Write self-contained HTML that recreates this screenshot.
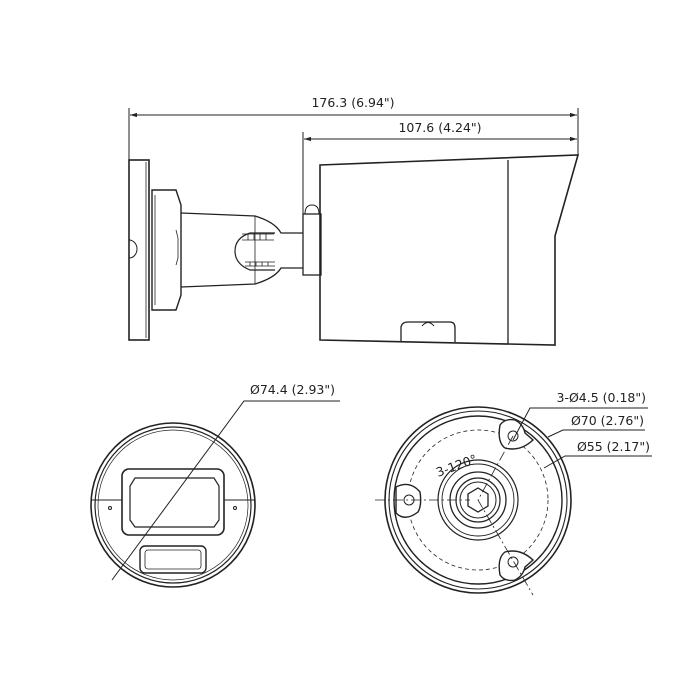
<!DOCTYPE html>
<html><head><style>body{margin:0;background:#fff}svg{display:block}text{font-family:"DejaVu Sans","Liberation Sans",sans-serif;font-size:12.5px;fill:#222}</style></head>
<body>
<svg width="700" height="700" viewBox="0 0 700 700" xmlns="http://www.w3.org/2000/svg" fill="none" stroke="#222" stroke-width="1.3">
<defs><marker id="a" viewBox="0 0 10 10" refX="10" refY="5" markerWidth="7" markerHeight="7" orient="auto-start-reverse"><path d="M0,2 L10,5 L0,8z" fill="#222" stroke="none"/></marker></defs>
<!-- dimensions -->
<line x1="129" y1="108" x2="129" y2="160" stroke-width="1"/>
<line x1="578" y1="108" x2="578" y2="155" stroke-width="1"/>
<line x1="303" y1="132" x2="303" y2="230" stroke-width="1"/>
<line x1="130" y1="115" x2="577" y2="115" stroke-width="1" marker-start="url(#a)" marker-end="url(#a)"/>
<line x1="304" y1="139" x2="577" y2="139" stroke-width="1" marker-start="url(#a)" marker-end="url(#a)"/>
<text x="353" y="107" text-anchor="middle" stroke="none">176.3 (6.94")</text>
<text x="440" y="132" text-anchor="middle" stroke="none">107.6 (4.24")</text>
<!-- bracket -->
<rect x="129" y="160" width="20" height="180" stroke-width="1.6"/>
<line x1="146" y1="162" x2="146" y2="338" stroke-width="0.8"/>
<path d="M129,240 A8,9 0 0 1 129,258 Z" stroke-width="1"/>
<path d="M152,190 L176,190 L181,205 L181,295 L176,310 L152,310 Z" stroke-width="1.4"/>
<line x1="155" y1="195" x2="155" y2="305" stroke-width="0.8"/>
<path d="M176,230 L178,238 L178,258 L176,265" stroke-width="0.8"/>
<path d="M181,213 L255,216 Q275,222 281,233 L303,233 M181,287 L255,284 Q275,278 281,268 L303,268" stroke-width="1.3"/>
<line x1="255" y1="216" x2="255" y2="284" stroke-width="0.8"/>
<path d="M275,233 L250,233 Q235,238 235,251 Q235,264 250,270 L275,270" stroke-width="1.2"/>
<g stroke-width="0.8"><path d="M242,234 h32 M242,240 h32 M245,262 h30 M245,266 h30"/><path d="M248,234 v6 M254,234 v6 M260,234 v6 M266,234 v6 M250,262 v4 M256,262 v4 M262,262 v4 M268,262 v4"/></g>
<rect x="303" y="214" width="18" height="61" stroke-width="1.3"/>
<path d="M305,214 Q305,205 312,205 Q319,205 319,214" stroke-width="1"/>
<!-- camera body -->
<path d="M320,165 L578,155 L555,236 L555,345 L320,340 Z" stroke-width="1.6"/>
<line x1="508" y1="160" x2="508" y2="344" stroke-width="1.3"/>
<path d="M401,341 L401,327 Q402,322 408,322 L450,322 Q455,322 455,328 L455,342" stroke-width="1.3"/>
<path d="M422,326 Q428,319 434,326" stroke-width="1"/>
<!-- left circle -->
<circle cx="173" cy="505" r="82" stroke-width="1.6"/>
<circle cx="173" cy="505" r="78" stroke-width="1.2"/>
<circle cx="173" cy="505" r="75" stroke-width="0.7"/>
<line x1="91" y1="500" x2="122" y2="500" stroke-width="1"/>
<line x1="224" y1="500" x2="255" y2="500" stroke-width="1"/>
<circle cx="110" cy="508" r="1.5" stroke-width="1"/><circle cx="235" cy="508" r="1.5" stroke-width="1"/>
<rect x="122" y="469" width="102" height="66" rx="7" stroke-width="1.6"/>
<path d="M135,478 L214,478 L219,486 L219,520 L214,527 L135,527 L130,520 L130,486 Z" stroke-width="1.2"/>
<rect x="140" y="546" width="66" height="27" rx="5" stroke-width="1.4"/>
<rect x="145" y="550" width="56" height="19" rx="3" stroke-width="0.8"/>
<path d="M112,580 L244,401 L340,401" stroke-width="1"/>
<text x="250" y="394" stroke="none">Ø74.4 (2.93")</text>
<!-- right circle -->
<circle cx="478" cy="500" r="93" stroke-width="1.6"/>
<circle cx="478" cy="500" r="89" stroke-width="1.1"/>
<circle cx="478" cy="500" r="84" stroke-width="1.4"/>
<circle cx="478" cy="500" r="70" stroke-width="0.8" stroke-dasharray="4,3"/>
<g stroke-width="1.4" fill="#fff">
<path d="M500,425 Q505,418 515,420 Q523,424 525,433 L533,440 Q520,452 505,448 Q497,442 500,425 Z"/>
<path d="M396,487 Q410,480 420,492 Q422,505 418,512 Q405,522 396,513 Z"/>
<path d="M500,575 Q505,582 515,580 Q523,576 525,567 L533,560 Q520,548 505,552 Q497,558 500,575 Z"/>
</g>
<circle cx="513" cy="436" r="5" stroke-width="1"/><circle cx="409" cy="500" r="5" stroke-width="1"/><circle cx="513" cy="562" r="5" stroke-width="1"/>
<circle cx="478" cy="500" r="40" stroke-width="1.2"/>
<circle cx="478" cy="500" r="36" stroke-width="0.9"/>
<circle cx="478" cy="500" r="28" stroke-width="1.3"/>
<circle cx="478" cy="500" r="22" stroke-width="1.2"/>
<circle cx="478" cy="500" r="18" stroke-width="1"/>
<path d="M478,488 L488,494 L488,506 L478,512 L468,506 L468,494 Z" stroke-width="1.3"/>
<path d="M375,500 L470,500" stroke-width="0.8" stroke-dasharray="10,3,2,3"/>
<path d="M513,436 L478,500 L533,595" stroke-width="0.8" stroke-dasharray="10,3,2,3"/>
<path d="M513,440 L530,408 L648,408" stroke-width="1"/>
<path d="M548,437 L563,430 L645,430" stroke-width="1"/>
<path d="M544,468 L565,456 L652,456" stroke-width="1"/>
<text x="646" y="402" text-anchor="end" stroke="none">3-Ø4.5 (0.18")</text>
<text x="644" y="425" text-anchor="end" stroke="none">Ø70 (2.76")</text>
<text x="650" y="451" text-anchor="end" stroke="none">Ø55 (2.17")</text>
<text x="0" y="0" stroke="none" transform="translate(438,477) rotate(-20)">3-120°</text>
</svg>
</body></html>
